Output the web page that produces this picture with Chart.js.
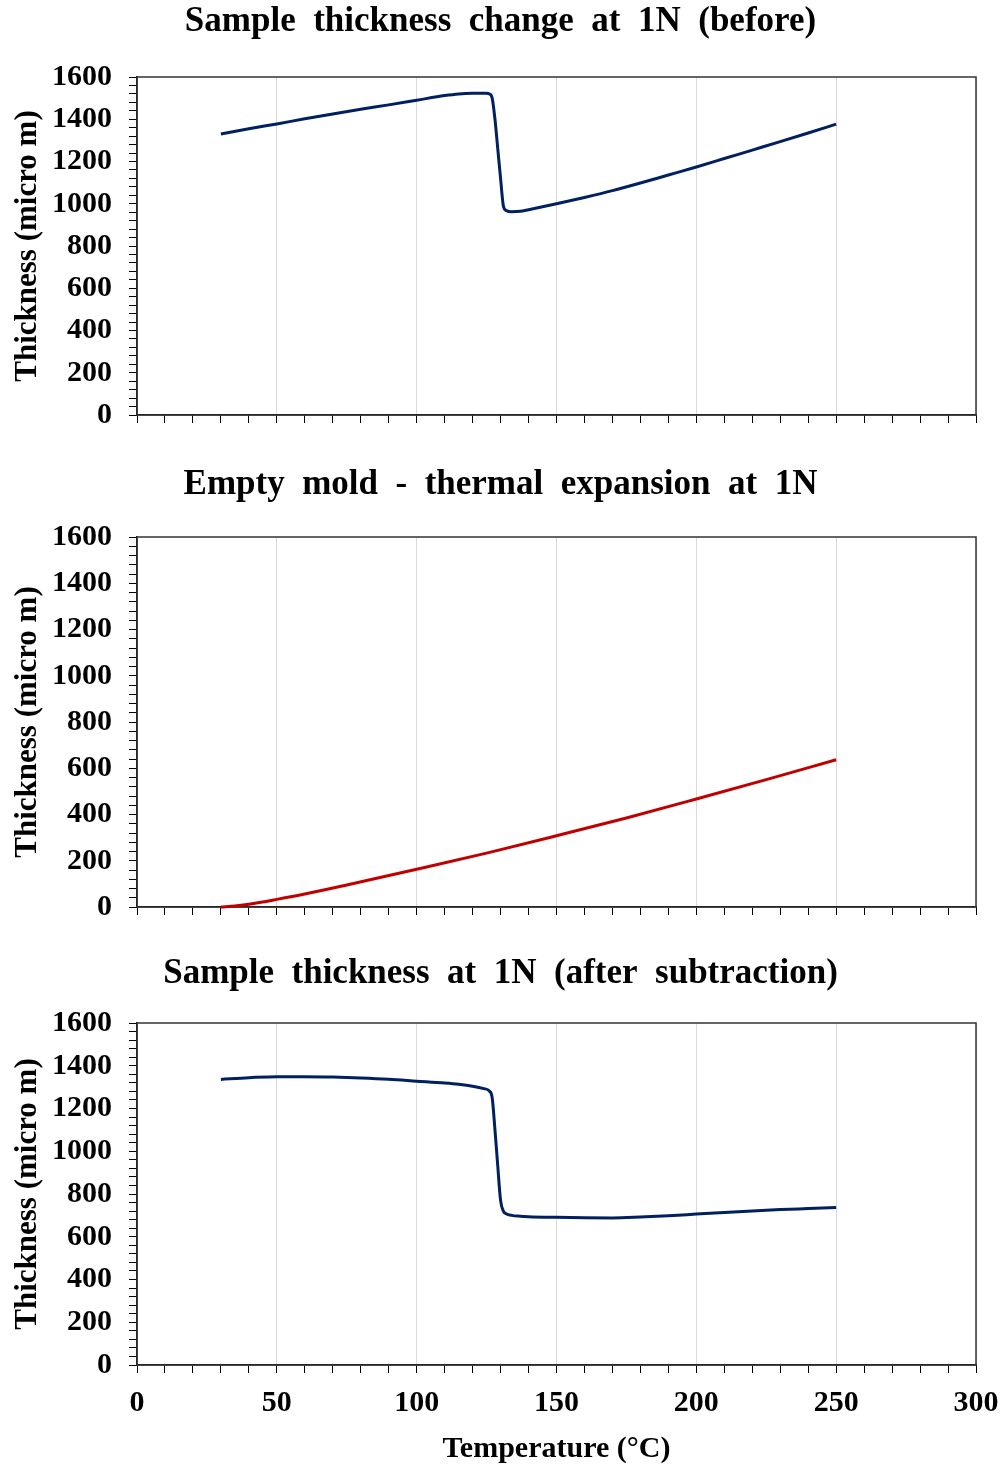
<!DOCTYPE html>
<html>
<head>
<meta charset="utf-8">
<title>Thickness vs temperature</title>
<script src="https://cdn.jsdelivr.net/npm/chart.js@4.4.1/dist/chart.umd.min.js"></script>
<style>
  body { margin: 0; background: #fff; overflow: hidden; }
  .panel { position: absolute; left: 0; width: 1005px; }
</style>
</head>
<body>
<div class="panel" style="top:0;height:451px"><canvas id="beforeChart"></canvas></div>
<div class="panel" style="top:440px;height:503px"><canvas id="moldChart"></canvas></div>
<div class="panel" style="top:930px;height:536px"><canvas id="afterChart"></canvas></div>

<script>
// Sample thickness at 1N before subtraction (micro m)
const tempBefore = [30, 40, 50, 60, 70, 80, 90, 100, 110, 115, 120, 125, 126, 127, 128, 129, 130, 131, 132, 134, 137, 140, 150, 160, 170, 180, 190, 200, 210, 220, 230, 240, 250];
const thickBefore = [1330, 1355, 1378, 1402, 1425, 1447, 1468, 1490, 1512, 1520, 1523, 1523, 1520, 1500, 1400, 1260, 1120, 990, 968, 962, 964, 972, 1000, 1030, 1062, 1098, 1136, 1174, 1214, 1254, 1294, 1335, 1377];

// Empty mold thermal expansion at 1N
const tempMold = [30, 35, 40, 50, 60, 75, 100, 125, 150, 175, 200, 225, 250];
const thickMold = [0, 4, 12, 33, 56, 95, 163, 233, 308, 385, 467, 551, 637];

// Sample thickness after subtracting the mold expansion
const tempAfter = [30, 40, 50, 60, 70, 80, 90, 100, 110, 115, 120, 124, 126, 127, 128, 129, 130, 131, 132, 134, 137, 140, 150, 160, 170, 180, 190, 200, 210, 220, 230, 240, 250];
const thickAfter = [1336, 1344, 1348, 1349, 1347, 1343, 1337, 1328, 1319, 1313, 1304, 1293, 1282, 1250, 1100, 930, 770, 720, 708, 700, 696, 694, 691, 689, 688, 692, 698, 706, 714, 721, 727, 732, 737];

const SERIF = "'Liberation Serif', 'Times New Roman', serif";
const NAVY = '#002060';
const RED = '#c00000';

// Box around the plot area
const framePlugin = {
  id: 'frame',
  beforeDatasetsDraw(chart) {
    const a = chart.chartArea;
    const ctx = chart.ctx;
    ctx.save();
    ctx.strokeStyle = '#333';
    ctx.lineWidth = 1.5;
    ctx.strokeRect(a.left, a.top, a.right - a.left, a.bottom - a.top);
    ctx.restore();
  }
};

function toPoints(xs, ys) {
  return xs.map((x, i) => ({ x: x, y: ys[i] }));
}

function makeChart(id, cfg) {
  const tickFont = { family: SERIF, size: 30, weight: 'bold' };
  return new Chart(document.getElementById(id), {
    type: 'line',
    data: {
      datasets: [{
        data: toPoints(cfg.xs, cfg.ys),
        borderColor: cfg.color,
        borderWidth: 3,
        pointRadius: 0,
        fill: false,
        cubicInterpolationMode: 'monotone',
        clip: false
      }]
    },
    options: {
      responsive: true,
      maintainAspectRatio: false,
      animation: false,
      layout: { padding: { left: 25, right: 29, top: 0, bottom: 0 } },
      plugins: {
        legend: { display: false },
        tooltip: { enabled: false },
        title: {
          display: true,
          text: cfg.title,
          color: '#000',
          font: { family: SERIF, size: 35, weight: 'bold' },
          padding: cfg.titlePad
        }
      },
      scales: {
        x: {
          type: 'linear',
          min: 0,
          max: 300,
          // fixed axis height; end labels may hang into the side margins
          afterFit: s => {
            s.height = cfg.xHeight;
            s.paddingLeft = 0;
            s.paddingRight = 0;
          },
          ticks: {
            stepSize: 10,
            autoSkip: false,
            maxRotation: 0,
            display: cfg.showX,
            padding: 12,
            color: '#000',
            font: tickFont,
            callback: v => (v % 50 === 0 ? v : '')
          },
          grid: {
            color: c => (c.tick && c.tick.value % 50 === 0 ? '#d9d9d9' : 'rgba(0,0,0,0)'),
            tickColor: '#000',
            tickLength: 8
          },
          border: { color: '#000', width: 1.5 },
          title: {
            display: cfg.showX,
            text: 'Temperature (°C)',
            color: '#000',
            font: { family: SERIF, size: 30, weight: 'bold' },
            padding: { top: 0, bottom: -1 }
          }
        },
        y: {
          min: 0,
          max: 1600,
          afterFit: s => { s.width = 112; },
          ticks: {
            stepSize: 40,
            autoSkip: false,
            padding: 17,
            color: '#000',
            font: tickFont,
            callback: v => (v % 200 === 0 ? v : '')
          },
          grid: {
            drawOnChartArea: false,
            tickColor: '#000',
            tickLength: 8
          },
          border: { color: '#000', width: 1.5 },
          title: {
            display: true,
            text: 'Thickness (micro m)',
            color: '#000',
            font: { family: SERIF, size: 31, weight: 'bold' },
            padding: { top: -16, bottom: 0 }
          }
        }
      }
    },
    plugins: [framePlugin]
  });
}

makeChart('beforeChart', {
  title: 'Sample  thickness  change  at  1N  (before)',
  xs: tempBefore, ys: thickBefore, color: NAVY,
  titlePad: { top: 1, bottom: 34 }, xHeight: 36, showX: false
});

makeChart('moldChart', {
  title: 'Empty  mold  -  thermal  expansion  at  1N',
  xs: tempMold, ys: thickMold, color: RED,
  titlePad: { top: 24, bottom: 31 }, xHeight: 36, showX: false
});

makeChart('afterChart', {
  title: 'Sample  thickness  at  1N  (after  subtraction)',
  xs: tempAfter, ys: thickAfter, color: NAVY,
  titlePad: { top: 23, bottom: 28 }, xHeight: 101, showX: true
});
</script>
</body>
</html>
